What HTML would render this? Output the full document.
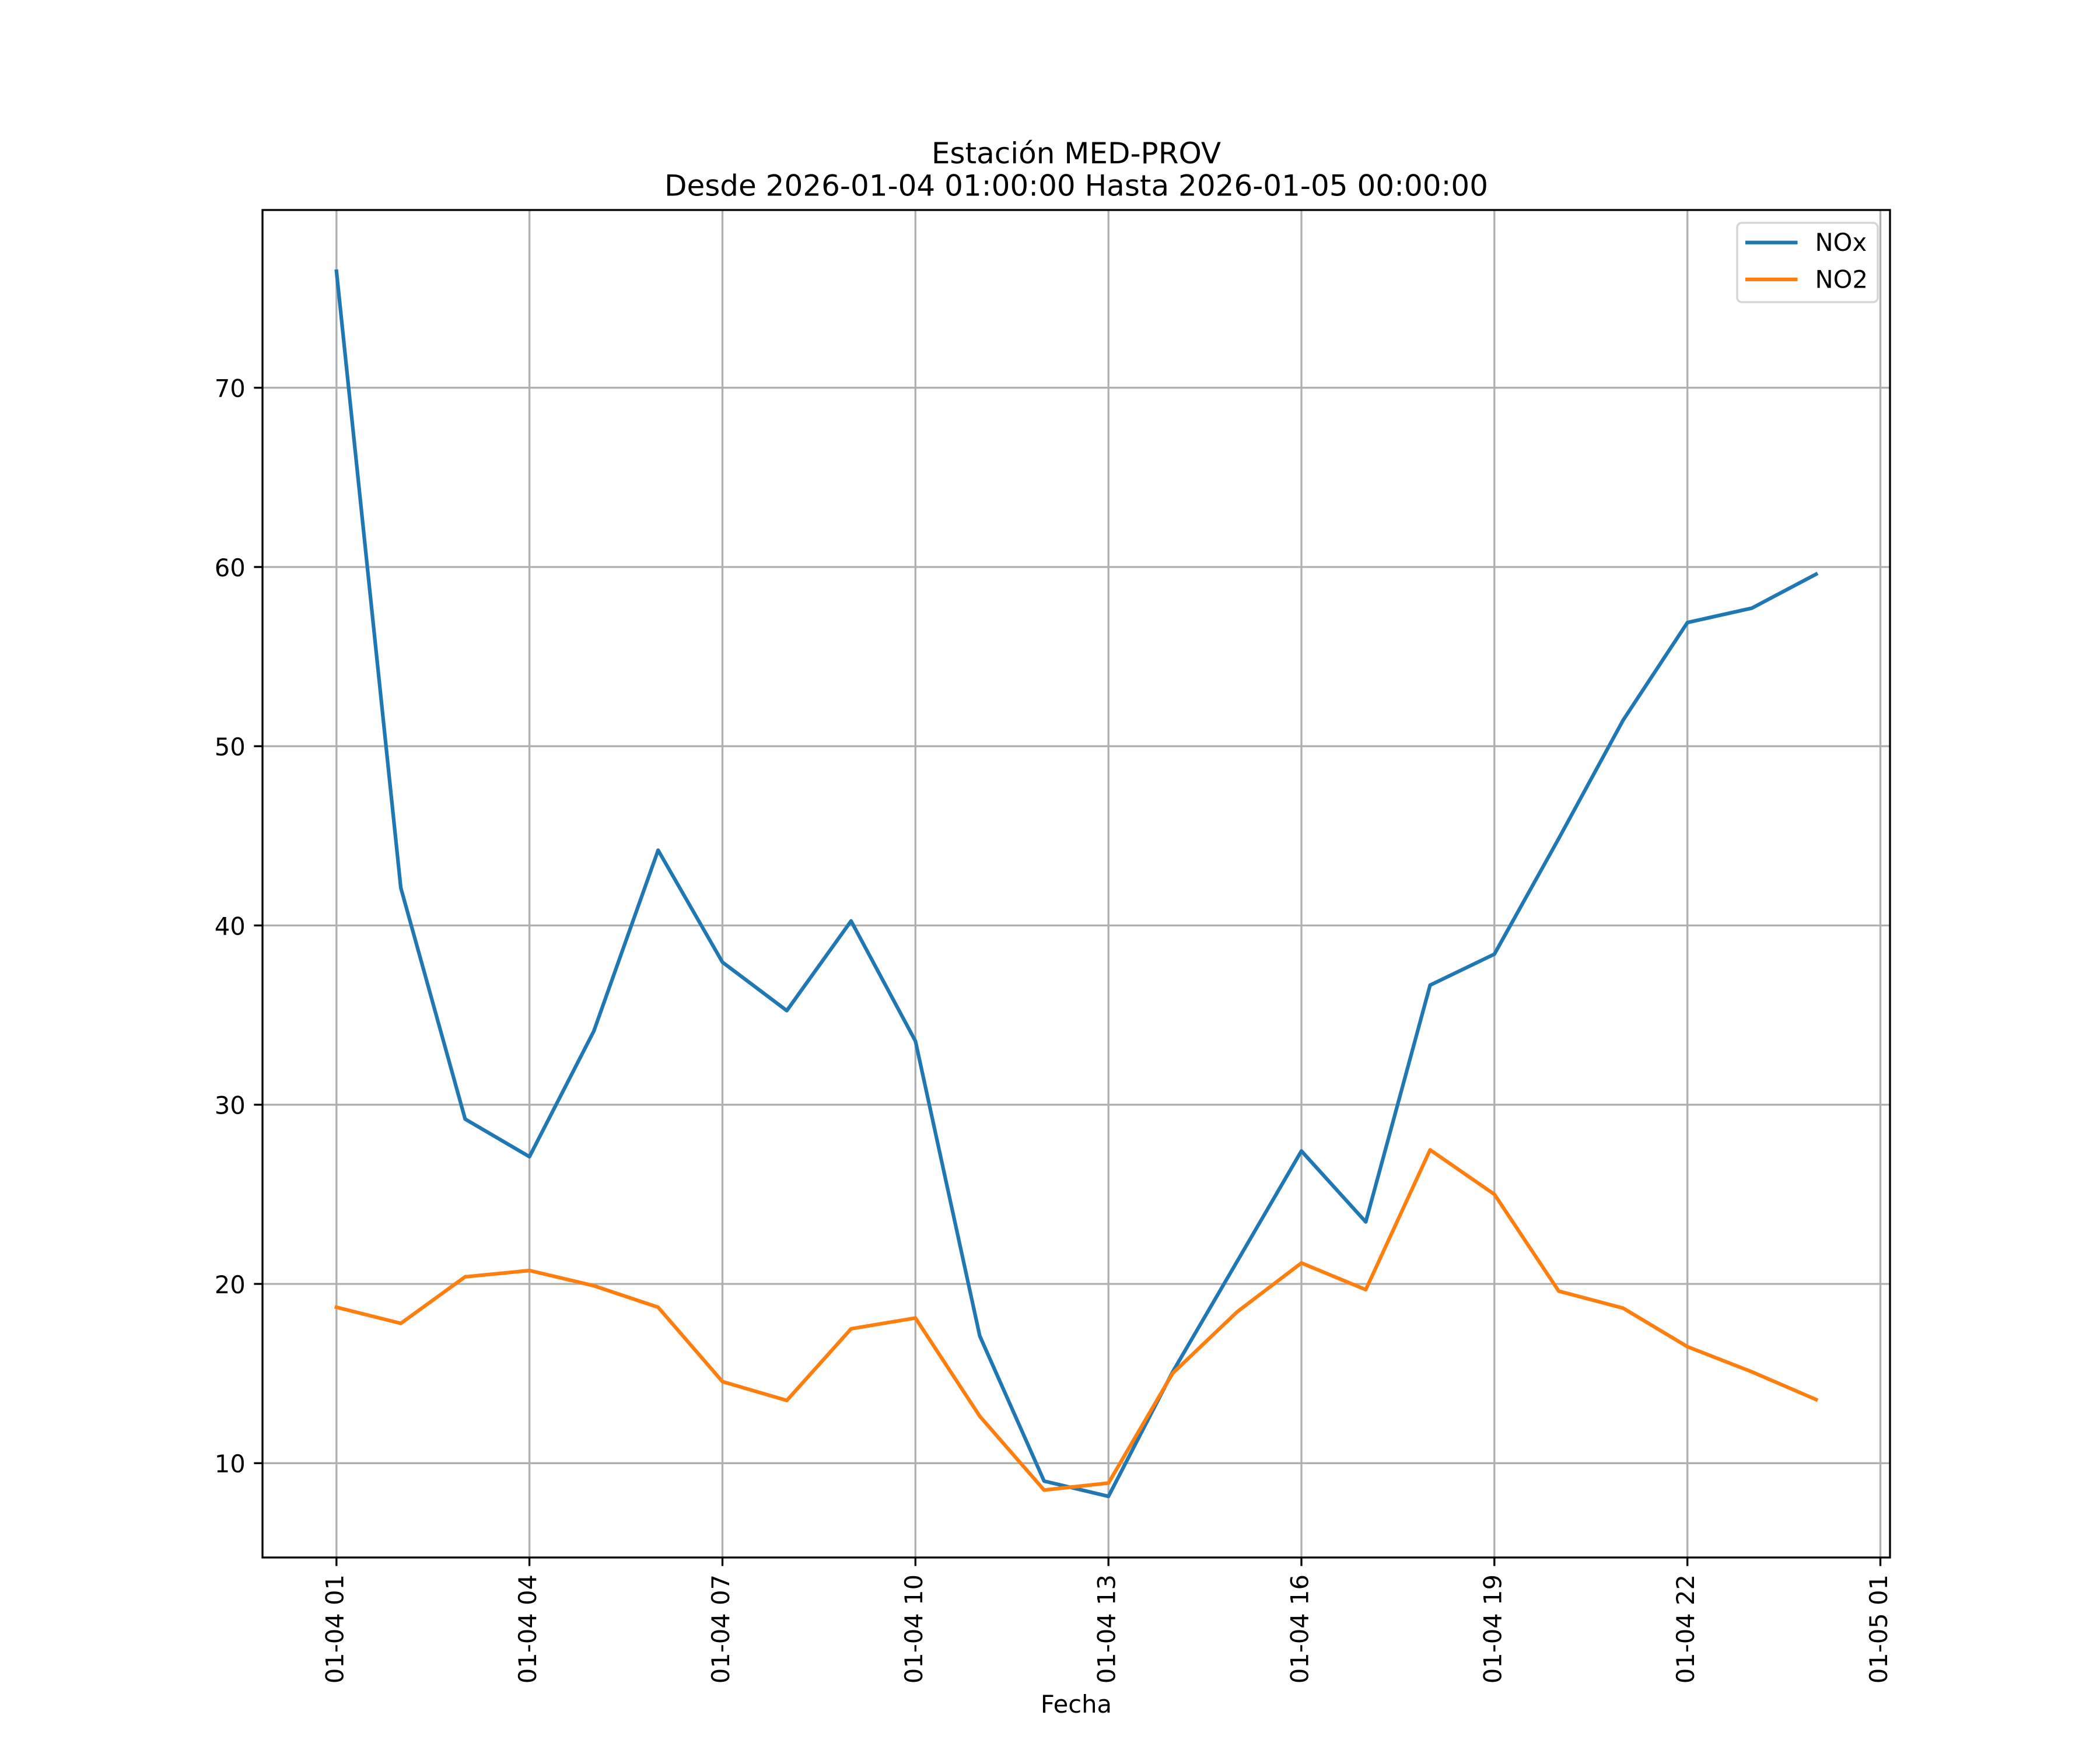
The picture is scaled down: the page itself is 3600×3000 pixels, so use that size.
<!DOCTYPE html>
<html>
<head>
<meta charset="utf-8">
<style>
html,body{margin:0;padding:0;background:#fff;}
svg{display:block;}
text{font-family:"DejaVu Sans","Liberation Sans",sans-serif;fill:#000;}
</style>
</head>
<body>
<svg width="3600" height="3000" viewBox="0 0 3600 3000" xmlns="http://www.w3.org/2000/svg">
<rect x="0" y="0" width="3600" height="3000" fill="#ffffff"/>
<defs>
<clipPath id="ax"><rect x="450" y="360" width="2790" height="2310"/></clipPath>
</defs>

<!-- grid -->
<g stroke="#b0b0b0" stroke-width="3.33" fill="none">
<line x1="576.8" y1="360" x2="576.8" y2="2670"/>
<line x1="907.6" y1="360" x2="907.6" y2="2670"/>
<line x1="1238.5" y1="360" x2="1238.5" y2="2670"/>
<line x1="1569.3" y1="360" x2="1569.3" y2="2670"/>
<line x1="1900.2" y1="360" x2="1900.2" y2="2670"/>
<line x1="2231.0" y1="360" x2="2231.0" y2="2670"/>
<line x1="2561.8" y1="360" x2="2561.8" y2="2670"/>
<line x1="2892.7" y1="360" x2="2892.7" y2="2670"/>
<line x1="3223.5" y1="360" x2="3223.5" y2="2670"/>
<line x1="450" y1="664.7" x2="3240" y2="664.7"/>
<line x1="450" y1="972.0" x2="3240" y2="972.0"/>
<line x1="450" y1="1279.2" x2="3240" y2="1279.2"/>
<line x1="450" y1="1586.5" x2="3240" y2="1586.5"/>
<line x1="450" y1="1893.8" x2="3240" y2="1893.8"/>
<line x1="450" y1="2201.0" x2="3240" y2="2201.0"/>
<line x1="450" y1="2508.3" x2="3240" y2="2508.3"/>
</g>

<!-- series -->
<g clip-path="url(#ax)" fill="none" stroke-width="6.25" stroke-linejoin="round" stroke-linecap="square">
<polyline stroke="#1f77b4" points="576.8,465.0 687.1,1522.0 797.4,1918.4 907.6,1982.9 1017.9,1767.8 1128.2,1457.5 1238.5,1649.5 1348.8,1732.5 1459.0,1578.8 1569.3,1784.7 1679.6,2290.2 1789.9,2539.0 1900.2,2565.2 2010.4,2351.6 2120.7,2162.6 2231.0,1973.1 2341.3,2094.7 2451.6,1688.8 2561.8,1635.7 2672.1,1437.5 2782.4,1234.7 2892.7,1067.2 3003.0,1042.6 3113.2,984.3"/>
<polyline stroke="#ff7f0e" points="576.8,2241.0 687.1,2268.6 797.4,2188.8 907.6,2178.0 1017.9,2204.1 1128.2,2241.0 1238.5,2368.5 1348.8,2400.8 1459.0,2277.9 1569.3,2259.4 1679.6,2427.8 1789.9,2554.4 1900.2,2542.4 2010.4,2354.1 2120.7,2249.0 2231.0,2165.1 2341.3,2210.9 2451.6,1971.2 2561.8,2047.4 2672.1,2213.3 2782.4,2242.5 2892.7,2308.6 3003.0,2351.6 3113.2,2399.2"/>
</g>

<!-- spines -->
<rect x="450" y="360" width="2790" height="2310" fill="none" stroke="#000" stroke-width="3.33" stroke-linejoin="miter"/>

<!-- ticks -->
<g stroke="#000" stroke-width="3.33">
<line x1="576.8" y1="2670" x2="576.8" y2="2684.6"/>
<line x1="907.6" y1="2670" x2="907.6" y2="2684.6"/>
<line x1="1238.5" y1="2670" x2="1238.5" y2="2684.6"/>
<line x1="1569.3" y1="2670" x2="1569.3" y2="2684.6"/>
<line x1="1900.2" y1="2670" x2="1900.2" y2="2684.6"/>
<line x1="2231.0" y1="2670" x2="2231.0" y2="2684.6"/>
<line x1="2561.8" y1="2670" x2="2561.8" y2="2684.6"/>
<line x1="2892.7" y1="2670" x2="2892.7" y2="2684.6"/>
<line x1="3223.5" y1="2670" x2="3223.5" y2="2684.6"/>
<line x1="450" y1="664.7" x2="435.4" y2="664.7"/>
<line x1="450" y1="972.0" x2="435.4" y2="972.0"/>
<line x1="450" y1="1279.2" x2="435.4" y2="1279.2"/>
<line x1="450" y1="1586.5" x2="435.4" y2="1586.5"/>
<line x1="450" y1="1893.8" x2="435.4" y2="1893.8"/>
<line x1="450" y1="2201.0" x2="435.4" y2="2201.0"/>
<line x1="450" y1="2508.3" x2="435.4" y2="2508.3"/>
</g>

<!-- y tick labels -->
<g font-size="41.67" text-anchor="end">
<text x="420.8" y="680.5">70</text>
<text x="420.8" y="987.8">60</text>
<text x="420.8" y="1295.0">50</text>
<text x="420.8" y="1602.3">40</text>
<text x="420.8" y="1909.6">30</text>
<text x="420.8" y="2216.8">20</text>
<text x="420.8" y="2524.1">10</text>
</g>

<!-- x tick labels -->
<g font-size="41.67" text-anchor="end">
<text transform="translate(588.3,2699) rotate(-90)">01-04 01</text>
<text transform="translate(919.1,2699) rotate(-90)">01-04 04</text>
<text transform="translate(1250.0,2699) rotate(-90)">01-04 07</text>
<text transform="translate(1580.8,2699) rotate(-90)">01-04 10</text>
<text transform="translate(1911.7,2699) rotate(-90)">01-04 13</text>
<text transform="translate(2242.5,2699) rotate(-90)">01-04 16</text>
<text transform="translate(2573.3,2699) rotate(-90)">01-04 19</text>
<text transform="translate(2904.2,2699) rotate(-90)">01-04 22</text>
<text transform="translate(3235.0,2699) rotate(-90)">01-05 01</text>
</g>

<!-- axis label -->
<text x="1845" y="2936" font-size="41.67" text-anchor="middle">Fecha</text>

<!-- title -->
<text x="1845" y="280" font-size="50" text-anchor="middle">Estación MED-PROV</text>
<text x="1845" y="335.5" font-size="50" text-anchor="middle">Desde 2026-01-04 01:00:00 Hasta 2026-01-05 00:00:00</text>

<!-- legend -->
<rect x="2978" y="382" width="241" height="136" rx="8" ry="8" fill="#ffffff" fill-opacity="0.8" stroke="#d6d6d6" stroke-width="3.5"/>
<line x1="2992" y1="415.7" x2="3081.5" y2="415.7" stroke="#1f77b4" stroke-width="6.25"/>
<line x1="2992" y1="479" x2="3081.5" y2="479" stroke="#ff7f0e" stroke-width="6.25"/>
<text x="3111.5" y="430" font-size="41.67">NOx</text>
<text x="3111.5" y="493.3" font-size="41.67">NO2</text>
</svg>
</body>
</html>
